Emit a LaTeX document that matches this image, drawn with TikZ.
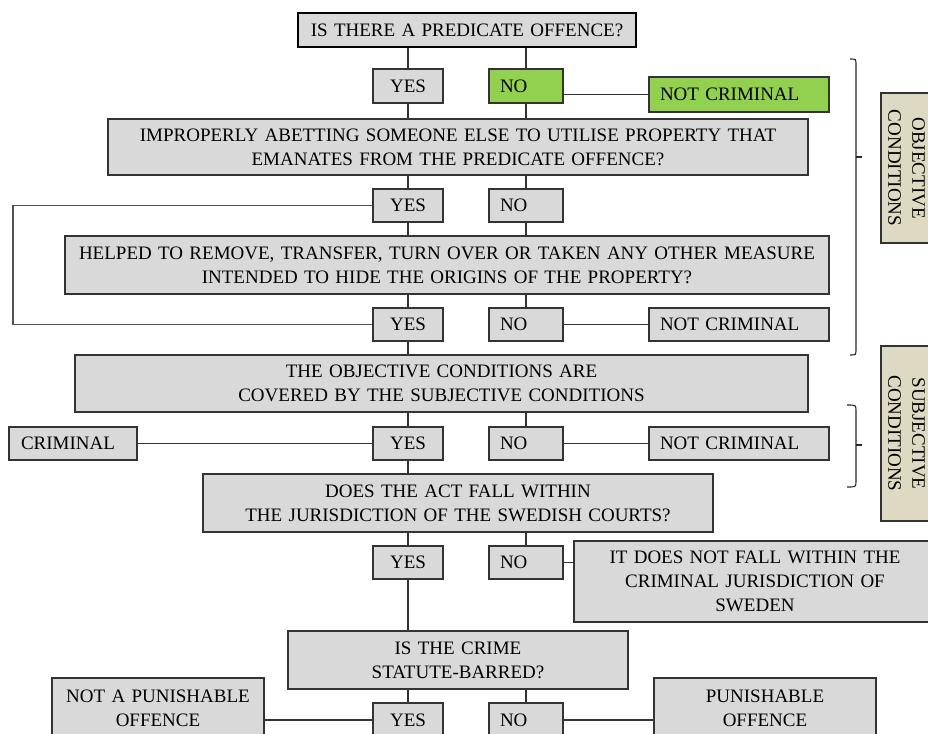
\documentclass[tikz,border=0pt]{standalone}
\usepackage{fontspec}
\setmainfont{Liberation Serif}
\definecolor{boxgray}{HTML}{D9D9D9}
\definecolor{boxgreen}{HTML}{92D050}
\definecolor{boxbeige}{HTML}{DDD9C3}
\definecolor{edge}{HTML}{333333}
\newcommand\fsz{\fontsize{19}{24}\selectfont}
\newcommand\mybox[8]{%
 \pgfmathsetmacro\bxw{#4-#2-2*#7}%
 \pgfmathsetmacro\bxh{#5-#3}%
 \pgfmathsetmacro\bxcx{(#2+#4)/2}%
 \pgfmathsetmacro\bxcy{(#3+#5)/2}%
 \node[#6, inner xsep=#7pt, text width=\bxw pt, minimum height=\bxh pt] (#1) at (\bxcx,\bxcy) {#8};}
\begin{document}
\begin{tikzpicture}[x=1pt,y=-1pt,
  box/.style={draw=edge, line width=1.1pt, fill=boxgray, inner ysep=0pt, font=\fsz, text=black, align=center},
  lbox/.style={box, align=left},
  gbox/.style={box, fill=boxgreen, align=left},
  topbox/.style={box, draw=black, line width=2pt},
  bbox/.style={draw=edge, line width=1.1pt, fill=boxbeige, inner sep=0pt, font=\fsz, text=black, align=center},
  conn/.style={draw=edge, line width=1.2pt},
  loopline/.style={draw=edge!85, line width=1.2pt},
  brace/.style={draw=black!85, line width=1.1pt}]
\clip (0,0) rectangle (928,733);
\fill[white] (0,0) rectangle (928,733);
% row 1
\mybox{top}{298}{13}{636}{47}{topbox}{4}{IS THERE A PREDICATE OFFENCE?}
\mybox{yes1}{373}{69}{443}{103}{box}{2}{YES}
\mybox{no1}{489}{69}{563}{103}{gbox}{11}{NO}
\mybox{nc1}{649}{77}{829}{112}{gbox}{11}{NOT CRIMINAL}
% q2
\mybox{q2}{108}{119}{808}{175}{box}{4}{IMPROPERLY ABETTING SOMEONE ELSE TO UTILISE PROPERTY THAT\\EMANATES FROM THE PREDICATE OFFENCE?}
\mybox{yes2}{373}{189}{443}{222}{box}{2}{YES}
\mybox{no2}{489}{189}{563}{222}{lbox}{11}{NO}
% q3
\mybox{q3}{65}{236}{829}{294}{box}{4}{HELPED TO REMOVE, TRANSFER, TURN OVER OR TAKEN ANY OTHER MEASURE\\INTENDED TO HIDE THE ORIGINS OF THE PROPERTY?}
\mybox{yes3}{373}{308}{443}{341}{box}{2}{YES}
\mybox{no3}{489}{308}{563}{341}{lbox}{11}{NO}
\mybox{nc3}{649}{308}{829}{341}{lbox}{11}{NOT CRIMINAL}
% q4
\mybox{q4}{75}{355}{808}{412}{box}{4}{THE OBJECTIVE CONDITIONS ARE\\COVERED BY THE SUBJECTIVE CONDITIONS}
\mybox{crim}{9}{427}{137}{460}{lbox}{12}{CRIMINAL}
\mybox{yes4}{373}{427}{443}{460}{box}{2}{YES}
\mybox{no4}{489}{427}{563}{460}{lbox}{11}{NO}
\mybox{nc4}{649}{427}{829}{460}{lbox}{11}{NOT CRIMINAL}
% q5
\mybox{q5}{203}{474}{713}{532}{box}{4}{DOES THE ACT FALL WITHIN\\THE JURISDICTION OF THE SWEDISH COURTS?}
\mybox{yes5}{373}{546}{443}{579}{box}{2}{YES}
\mybox{no5}{489}{546}{563}{579}{lbox}{11}{NO}
\mybox{dn}{574}{541}{936}{622}{box}{4}{IT DOES NOT FALL WITHIN THE\\CRIMINAL JURISDICTION OF\\SWEDEN}
% q6
\mybox{q6}{288}{631}{628}{689}{box}{4}{IS THE CRIME\\STATUTE-BARRED?}
\mybox{np}{52}{678}{264}{738}{box}{4}{NOT A PUNISHABLE\\OFFENCE}
\mybox{yes6}{373}{703}{443}{737}{box}{2}{YES}
\mybox{no6}{489}{703}{563}{737}{lbox}{11}{NO}
\mybox{pu}{654}{678}{876}{738}{box}{4}{PUNISHABLE\\OFFENCE}
% side labels
\node[bbox, rotate=-90, minimum width=150pt, minimum height=51pt] (obj) at (906.5,168) {OBJECTIVE\\CONDITIONS};
\node[bbox, rotate=-90, minimum width=175pt, minimum height=51pt] (subj) at (906.5,433.5) {SUBJECTIVE\\CONDITIONS};
% connectors
\draw[conn] (top.south -| yes1.north) -- (yes1.north);
\draw[conn] (top.south -| no1.north) -- (no1.north);
\draw[conn] (no1.east |- nc1.west) -- (nc1.west);
\draw[conn] (yes1.south) -- (yes1.south |- q2.north);
\draw[conn] (no1.south) -- (no1.south |- q2.north);
\draw[conn] (q2.south -| yes2.north) -- (yes2.north);
\draw[conn] (q2.south -| no2.north) -- (no2.north);
\draw[conn] (yes2.south) -- (yes2.south |- q3.north);
\draw[conn] (no2.south) -- (no2.south |- q3.north);
\coordinate (lp) at (13,0);
\draw[loopline] (yes2.west) -- (yes2.west -| lp) -- (yes3.west -| lp) -- (yes3.west);
\draw[conn] (q3.south -| yes3.north) -- (yes3.north);
\draw[conn] (q3.south -| no3.north) -- (no3.north);
\draw[conn] (no3.east) -- (nc3.west);
\draw[conn] (yes3.south) -- (yes3.south |- q4.north);
\draw[conn] (q4.south -| yes4.north) -- (yes4.north);
\draw[conn] (q4.south -| no4.north) -- (no4.north);
\draw[conn] (crim.east) -- (yes4.west);
\draw[conn] (no4.east) -- (nc4.west);
\draw[conn] (yes4.south) -- (yes4.south |- q5.north);
\draw[conn] (q5.south -| yes5.north) -- (yes5.north);
\draw[conn] (q5.south -| no5.north) -- (no5.north);
\draw[conn] (no5.east) -- (no5.east -| dn.west);
\draw[conn] (yes5.south) -- (yes5.south |- q6.north);
\draw[conn] (q6.south -| yes6.north) -- (yes6.north);
\draw[conn] (q6.south -| no6.north) -- (no6.north);
\draw[conn] (np.east |- yes6.west) -- (yes6.west);
\draw[conn] (no6.east) -- (no6.east -| pu.west);
% braces
\draw[brace] (850,59) .. controls (856,59) .. (856,65) -- (856,349) .. controls (856,355) .. (850,355);
\draw[brace] (856,157) -- (862,157);
\draw[brace] (847,405) .. controls (856,405) .. (856,411) -- (856,481) .. controls (856,487) .. (847,487);
\draw[brace] (856,445) -- (862,445);
\end{tikzpicture}
\end{document}
